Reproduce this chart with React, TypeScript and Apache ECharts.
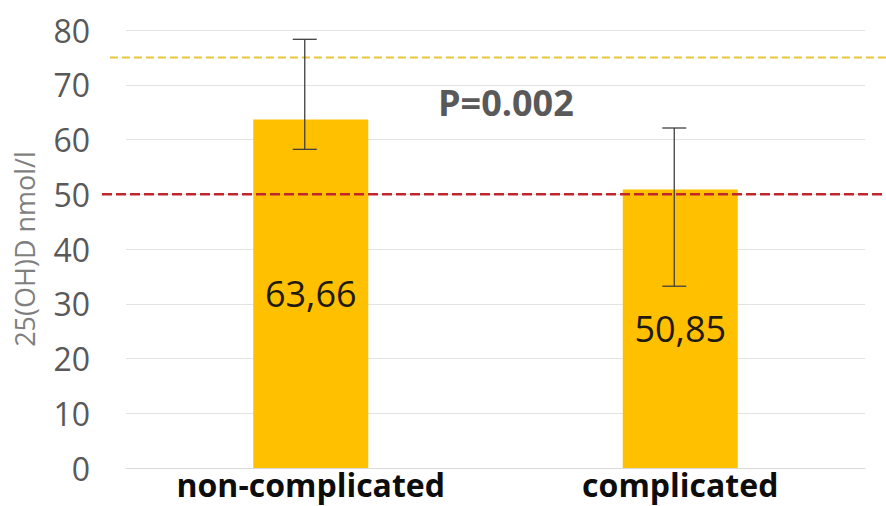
import React, { useEffect, useRef } from "react";
import * as echarts from "echarts";

// Serum 25(OH)D by outcome group
const categories = ["non-complicated", "complicated"];
const meanValues = [63.66, 50.85];
const errorLow = [58.2, 33.2];
const errorHigh = [78.3, 62.1];
const yTicks = { min: 0, max: 80, interval: 10 };
const sufficiencyLevel = 75;
const deficiencyLevel = 50;
const pValueText = "P=0.002";

const FONT = "'Open Sans', 'Noto Sans', sans-serif";

export default function App() {
  const ref = useRef<HTMLDivElement>(null);

  useEffect(() => {
    if (!ref.current) return;
    const chart = echarts.init(ref.current, undefined, { renderer: "svg" });

    const errorData = categories.map((_, i) => [i, errorLow[i], errorHigh[i]]);

    chart.setOption({
      animation: false,
      backgroundColor: "#ffffff",
      grid: [
        { left: 126, right: 21, top: 30, bottom: 38 },
        // wider band used only for the reference lines that run past the plot
        { left: 102, right: 0, top: 30, bottom: 38 },
      ],
      xAxis: [
        {
          type: "category",
          data: categories,
          gridIndex: 0,
          axisLine: { show: true, lineStyle: { color: "#d9d9d9", width: 1 } },
          axisTick: { show: false },
          axisLabel: {
            interval: 0,
            margin: 0,
            fontFamily: FONT,
            fontWeight: "bold",
            fontSize: 32,
            lineHeight: 32,
            color: "#0d0d0d",
          },
        },
        { type: "value", gridIndex: 1, min: 0, max: 1, show: false },
      ],
      yAxis: [
        {
          type: "value",
          gridIndex: 0,
          min: yTicks.min,
          max: yTicks.max,
          interval: yTicks.interval,
          name: "25(OH)D nmol/l",
          nameLocation: "middle",
          nameGap: 88,
          nameRotate: 90,
          nameTextStyle: { fontFamily: FONT, fontSize: 27, color: "#7f7f7f" },
          axisLine: { show: false },
          axisTick: { show: false },
          axisLabel: { margin: 36, fontFamily: FONT, fontSize: 32, color: "#595959" },
          splitLine: { lineStyle: { color: "#e3e3e3", width: 1 } },
        },
        { type: "value", gridIndex: 1, min: yTicks.min, max: yTicks.max, show: false },
      ],
      series: [
        {
          type: "bar",
          xAxisIndex: 0,
          yAxisIndex: 0,
          data: meanValues,
          barWidth: 115,
          itemStyle: { color: "#FFC000" },
          label: {
            show: true,
            position: "inside",
            formatter: (p: any) => String(p.value).replace(".", ","),
            fontFamily: FONT,
            fontSize: 36,
            color: "#1f1a10",
          },
          z: 2,
        },
        {
          type: "custom",
          xAxisIndex: 0,
          yAxisIndex: 0,
          data: errorData,
          z: 5,
          renderItem: (params: any, api: any) => {
            const idx = api.value(0);
            const lo = api.coord([idx, api.value(1)]);
            const hi = api.coord([idx, api.value(2)]);
            const x = lo[0] - 6;
            const cap = 12;
            const style = { stroke: "#404040", lineWidth: 1.3 };
            return {
              type: "group",
              children: [
                { type: "line", shape: { x1: x, y1: hi[1], x2: x, y2: lo[1] }, style },
                { type: "line", shape: { x1: x - cap, y1: hi[1], x2: x + cap, y2: hi[1] }, style },
                { type: "line", shape: { x1: x - cap, y1: lo[1], x2: x + cap, y2: lo[1] }, style },
              ],
            };
          },
        },
        {
          type: "line",
          xAxisIndex: 1,
          yAxisIndex: 1,
          data: [
            [0.01, sufficiencyLevel],
            [1, sufficiencyLevel],
          ],
          symbol: "none",
          lineStyle: { color: "#E8C53A", width: 2, type: [8, 4] },
          z: 4,
        },
        {
          type: "line",
          xAxisIndex: 1,
          yAxisIndex: 1,
          data: [
            [0, deficiencyLevel],
            [1, deficiencyLevel],
          ],
          symbol: "none",
          lineStyle: { color: "#C0262B", width: 2.5, type: [10, 4] },
          z: 4,
        },
      ],
      graphic: [
        {
          type: "text",
          left: 438,
          top: 84,
          style: {
            text: pValueText,
            fontFamily: FONT,
            fontWeight: "bold",
            fontSize: 36,
            fill: "#595959",
          },
        },
      ],
    });

    return () => chart.dispose();
  }, []);

  return <div ref={ref} style={{ width: 886, height: 506, position: "absolute", left: 0, top: 0 }} />;
}
